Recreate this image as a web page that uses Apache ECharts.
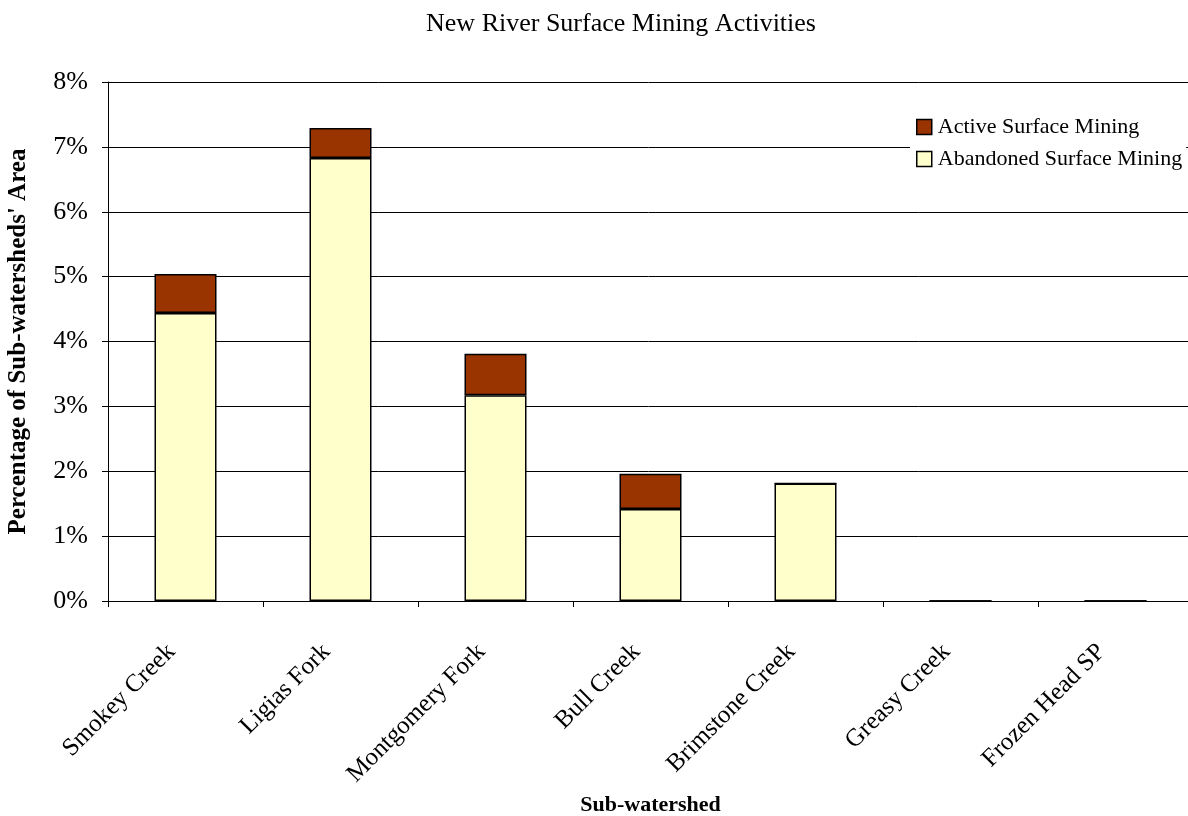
<!DOCTYPE html>
<html>
<head>
<meta charset="utf-8">
<script src="https://cdn.jsdelivr.net/npm/echarts@6/dist/echarts.min.js"></script>
<style>
  html, body { margin: 0; padding: 0; background: #fff; }
  #chart { width: 1188px; height: 816px; }
</style>
</head>
<body>
<div id="chart"></div>
<script>
// Sub-watersheds along the New River
const categories = ['Smokey Creek', 'Ligias Fork', 'Montgomery Fork', 'Bull Creek', 'Brimstone Creek', 'Greasy Creek', 'Frozen Head SP'];
// Share of each sub-watershed's area, in percent
const abandonedMining = [4.44, 6.83, 3.17, 1.42, 1.81, 0, 0];
const activeMining = [0.60, 0.46, 0.64, 0.54, 0, 0, 0];
const yTicks = { min: 0, max: 8, interval: 1 };

const serif = '"Liberation Serif", "Times New Roman", serif';
const chart = echarts.init(document.getElementById('chart'), null, { renderer: 'canvas' });

chart.setOption({
  backgroundColor: '#ffffff',
  animation: false,
  title: {
    text: 'New River Surface Mining Activities',
    left: 616, top: 6, textAlign: 'center',
    textStyle: { fontFamily: serif, fontSize: 26, fontWeight: 'normal', color: '#000' }
  },
  legend: {
    orient: 'vertical',
    left: 910, top: 112,
    backgroundColor: '#ffffff',
    padding: [4, 4, 4, 6],
    itemGap: 10,
    itemWidth: 15, itemHeight: 15,
    icon: 'rect',
    textStyle: { fontFamily: serif, fontSize: 22, color: '#000', padding: [0, 0, 0, 1] },
    data: [
      { name: 'Active Surface Mining', itemStyle: { color: '#993300', borderColor: '#000', borderWidth: 1.5 } },
      { name: 'Abandoned Surface Mining', itemStyle: { color: '#FFFFCC', borderColor: '#000', borderWidth: 1.5 } }
    ]
  },
  grid: { left: 108, top: 82, width: 1085, height: 519, containLabel: false, outerBoundsMode: 'none' },
  xAxis: {
    type: 'category',
    data: categories,
    name: 'Sub-watershed',
    nameLocation: 'middle',
    nameGap: 192,
    nameTextStyle: { fontFamily: serif, fontSize: 22, fontWeight: 'bold', color: '#000' },
    axisLine: { lineStyle: { color: '#000', width: 1 } },
    axisTick: { show: true, alignWithLabel: false, length: 6, lineStyle: { color: '#000' } },
    axisLabel: { rotate: 45, margin: 33, padding: [0, 20, 0, 0], fontFamily: serif, fontSize: 25, color: '#000' },
    splitLine: { show: false }
  },
  yAxis: {
    type: 'value',
    min: yTicks.min, max: yTicks.max, interval: yTicks.interval,
    name: "Percentage of Sub-watersheds' Area",
    nameLocation: 'middle',
    nameGap: 77,
    nameRotate: 90,
    nameTextStyle: { fontFamily: serif, fontSize: 25, fontWeight: 'bold', color: '#000' },
    axisLine: { show: true, lineStyle: { color: '#000', width: 1 } },
    axisTick: { show: true, length: 6, lineStyle: { color: '#000' } },
    axisLabel: { formatter: '{value}%', margin: 20, fontFamily: serif, fontSize: 26, color: '#000' },
    splitLine: { show: true, lineStyle: { color: '#000', width: 1 } }
  },
  series: [
    {
      name: 'Abandoned Surface Mining',
      type: 'bar',
      stack: 'mining',
      data: abandonedMining,
      barWidth: '40%',
      itemStyle: { color: '#FFFFCC', borderColor: '#000', borderWidth: 1.5 }
    },
    {
      name: 'Active Surface Mining',
      type: 'bar',
      stack: 'mining',
      data: activeMining,
      barWidth: '40%',
      itemStyle: { color: '#993300', borderColor: '#000', borderWidth: 1.5 }
    }
  ]
});
</script>
</body>
</html>
